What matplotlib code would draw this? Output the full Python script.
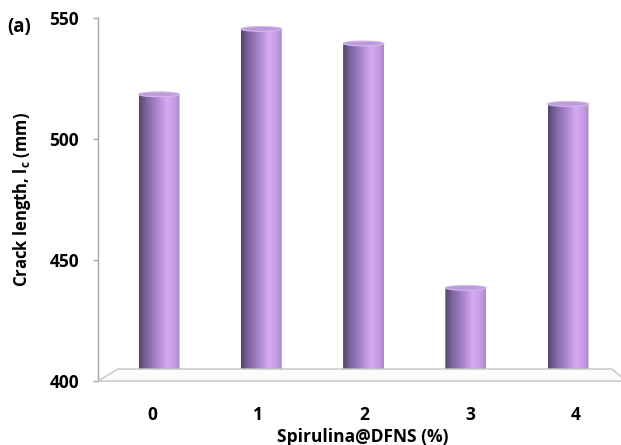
import numpy as np
import matplotlib.pyplot as plt
from matplotlib.colors import LinearSegmentedColormap
from matplotlib.patches import Polygon, Ellipse

plt.rcParams['font.family'] = ['Open Sans', 'DejaVu Sans']
plt.rcParams['font.weight'] = 'bold'
plt.rcParams['mathtext.fontset'] = 'custom'
plt.rcParams['mathtext.rm'] = 'Open Sans:bold'
plt.rcParams['mathtext.bf'] = 'Open Sans:bold'

# Spirulina@DFNS loading (%) and measured crack length (mm)
loading = ['0', '1', '2', '3', '4']
crack_length = [516, 543, 537, 436, 512]
yticks = [400, 450, 500, 550]

W, H = 621, 445
FS = 12.5
fig = plt.figure(figsize=(W / 100, H / 100), dpi=100)


def box(left, top, right, bottom):
    # pixel box -> figure fraction rect
    return [left / W, 1 - bottom / H, (right - left) / W, (bottom - top) / H]


def fpx(x, y):
    return (x / W, 1 - y / H)


# front axes: value scale and category labels
ax = fig.add_axes(box(98, 18, 621, 381))
ax.set_xlim(-0.509, 4.425)
ax.set_ylim(400, 550)
ax.set_xticks(range(len(loading)))
ax.set_xticklabels(loading)
ax.set_yticks(yticks)
for s in ['top', 'right', 'bottom']:
    ax.spines[s].set_visible(False)
ax.spines['left'].set_color('#a6a6a6')
ax.spines['left'].set_linewidth(1.0)
ax.tick_params(axis='y', length=3.6, width=1.0, color='#a6a6a6', pad=10, labelsize=FS)
ax.tick_params(axis='x', length=0, pad=18, labelsize=FS)
ax.patch.set_visible(False)
ax.set_ylabel(r'Crack length, l$_{\mathbf{c}}$ (mm)', fontsize=12, fontweight='bold')
ax.yaxis.set_label_coords(-0.124, 0.5)

# floor of the 3-D plot area
floor = Polygon([fpx(98, 381), fpx(118, 369), fpx(612, 369), fpx(626, 381)],
                closed=True, transform=fig.transFigure, facecolor='#fbfbfb',
                edgecolor='#c4c4c4', lw=1.0, zorder=0)
fig.patches.append(floor)

# back plane where the cylinders stand (slightly raised and narrowed)
axb = fig.add_axes(box(98, 12, 621, 375))
axb.patch.set_visible(False)
axb.set_axis_off()

body_cmap = LinearSegmentedColormap.from_list(
    'cyl', [(0, '#57446f'), (0.18, '#7d64a0'), (0.45, '#ab87cf'),
            (0.68, '#d7a9f5'), (0.88, '#c49be3'), (1, '#a788c6')])
grad = np.linspace(0, 1, 256)[None, :]

bar_w = 0.40
cap_h = 2.0


def cylinder(xc, top, base=400):
    x0, x1 = xc - bar_w / 2, xc + bar_w / 2
    # soft shadow on the floor
    for k, a in [(1.6, 0.10), (1.4, 0.14), (1.2, 0.2)]:
        axb.add_patch(Ellipse((xc, base), bar_w * k, cap_h * 1.2, facecolor='#303030',
                              edgecolor='none', alpha=a, zorder=2))
    t = np.linspace(np.pi, 2 * np.pi, 40)
    arc = list(zip(xc + bar_w / 2 * np.cos(t), base + cap_h / 2 * np.sin(t)))
    verts = [(x0, top)] + arc + [(x1, top)]
    clip = Polygon(verts, closed=True, facecolor='none', edgecolor='none')
    axb.add_patch(clip)
    im = axb.imshow(grad, cmap=body_cmap, extent=[x0, x1, base - cap_h / 2, top],
                    aspect='auto', interpolation='bicubic', zorder=3)
    im.set_clip_path(clip)
    axb.add_patch(Ellipse((xc, top), bar_w, cap_h, facecolor='#bc9bdb',
                          edgecolor='#d4b8ec', lw=0.8, zorder=4))


for i, v in enumerate(crack_length):
    cylinder(i, v)

axb.set_xlim(-0.597, 4.518)
axb.set_ylim(400, 550)

fig.text(363 / W, 1 - 437 / H, 'Spirulina@DFNS (%)', ha='center', va='center',
         fontsize=FS, fontweight='bold')
fig.text(7 / W, 1 - 27 / H, '(a)', ha='left', va='center', fontsize=13.5, fontweight='bold')

fig.savefig('out.png', dpi=100)
